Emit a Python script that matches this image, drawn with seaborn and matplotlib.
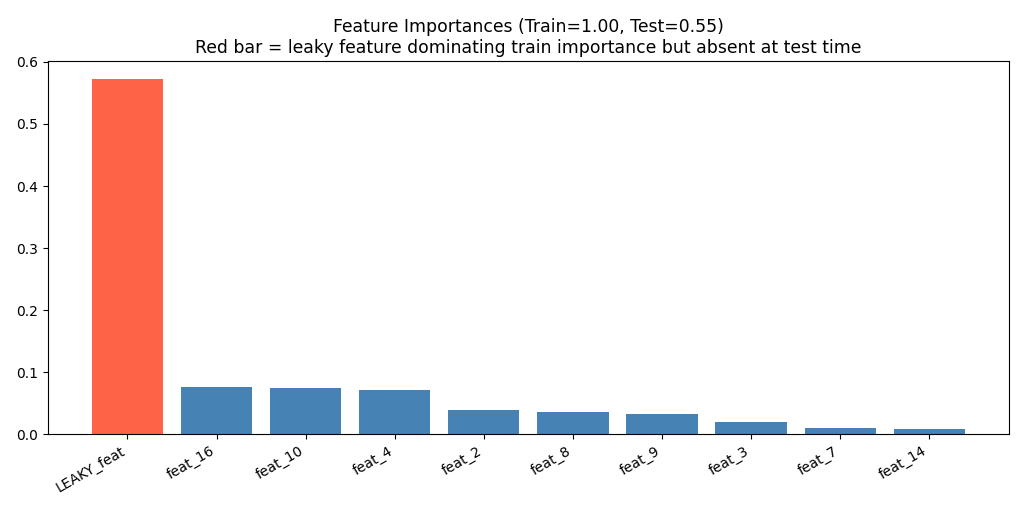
import pandas as pd
import matplotlib
matplotlib.use('Agg')
import matplotlib.pyplot as plt
import seaborn as sns

# Feature importances
features = ['LEAKY_feat', 'feat_16', 'feat_10', 'feat_4', 'feat_2',
            'feat_8', 'feat_9', 'feat_3', 'feat_7', 'feat_14']
importances = [0.573, 0.0756, 0.074, 0.0707, 0.0397,
               0.0354, 0.0322, 0.0204, 0.0096, 0.008]
train_score = 1.00
test_score = 0.55

colors = ['tomato' if f.startswith('LEAKY') else 'steelblue' for f in features]

df = pd.DataFrame({'feature': features, 'importance': importances})

fig, ax = plt.subplots(figsize=(10.24, 5.12), dpi=100)
sns.barplot(data=df, x='feature', y='importance', hue='feature',
            palette=colors, legend=False, width=0.8, saturation=1, ax=ax)

# match plain matplotlib bar margins
ax.set_autoscalex_on(True)
ax.margins(x=0.05)
ax.autoscale_view()

ax.set_xlabel('')
ax.set_ylabel('')
plt.setp(ax.get_xticklabels(), rotation=30, ha='right')
ax.set_title(f'Feature Importances (Train={train_score:.2f}, Test={test_score:.2f})\n'
             'Red bar = leaky feature dominating train importance but absent at test time',
             fontsize=12.4)
fig.subplots_adjust(left=0.047, right=0.985, top=0.881, bottom=0.152)
plt.savefig('out.png')
